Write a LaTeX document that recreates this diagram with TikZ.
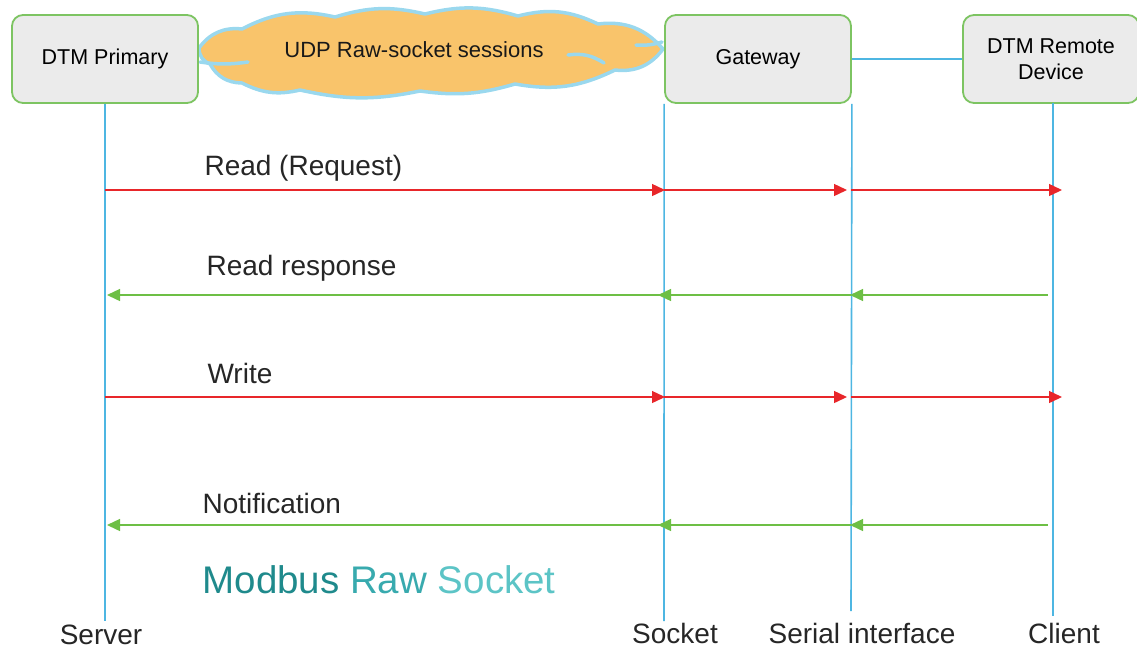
\documentclass[tikz,border=0pt]{standalone}
\usepackage{fontspec}
\setmainfont{Liberation Sans}
\usetikzlibrary{arrows.meta}
\definecolor{lifeblue}{HTML}{4DB6E2}
\definecolor{boxgreen}{HTML}{7DC462}
\definecolor{boxfill}{HTML}{EBEBEB}
\definecolor{reqred}{HTML}{E8262A}
\definecolor{respgreen}{HTML}{6DBF45}
\definecolor{cloudfill}{HTML}{F9C46B}
\definecolor{cloudline}{HTML}{9AD8EE}
\definecolor{tealA}{HTML}{1F8A8C}
\definecolor{tealB}{HTML}{38AAAE}
\definecolor{tealC}{HTML}{5CC4C6}
\begin{document}
\begin{tikzpicture}[x=1pt,y=-1pt,
  box/.style={draw=boxgreen, line width=1.8pt, fill=boxfill, rounded corners=11pt,
    minimum height=88pt, inner sep=2pt, font=\fontsize{21.5}{26}\selectfont, align=center},
  life/.style={draw=lifeblue, line width=1.6pt},
  req/.style={draw=reqred, line width=1.4pt, -{Triangle[length=13pt,width=12pt]}},
  resp/.style={draw=respgreen, line width=1.4pt, -{Triangle[length=13pt,width=12pt]}},
  msg/.style={anchor=west, font=\fontsize{28}{32}\selectfont, text=black!85},
  bottom/.style={font=\fontsize{28}{32}\selectfont, text=black!85},
  cloudedge/.style={draw=cloudline, line width=3.5pt, line cap=round, line join=round}]
\useasboundingbox (0,0) rectangle (1137,649);

% cloud (drawn directly)
\path[cloudedge, fill=cloudfill]
  (199,48) to[bend left=30] (242,29) to[bend left=20] (335,17)
  to[bend left=15] (425,14) to[bend left=15] (518,16) to[bend left=20] (598,24)
  to[bend left=28] (663,49)
  to[bend left=30] (615,70) to[bend left=18] (515,84) to[bend left=12] (420,91)
  to[bend left=12] (300,90) to[bend left=20] (242,83) to[bend left=30] (210,64)
  to[bend left=35] cycle;
\draw[cloudedge] (200,62) to[bend right=8] (248,62);
\draw[cloudedge] (568,55) to[bend left=20] (604,63);
\draw[cloudedge] (636,45) to[bend right=10] (662,42);
\node[font=\fontsize{22}{26}\selectfont, text=black!90] (cltext) at (414,50) {UDP Raw-socket sessions};

% boxes
\node[box, minimum width=186pt] (prim) at (105,59) {DTM Primary};
\node[box, minimum width=186pt] (gw) at (758,59) {Gateway};
\node[box, minimum width=176pt] (rem) at (1051,59) {DTM Remote\\Device};

\draw[life] (gw.east) -- (rem.west);

% lifeline ends
\coordinate (svend) at (105,621);
\coordinate (skend) at (664,621);
\coordinate (siend) at (851,611);
\coordinate (clend) at (1053,616);
\coordinate (remtop) at (1053,103);
\draw[life] (prim.south) -- (svend);
\draw[life] (gw.south west) -- (skend);
\draw[life] (gw.south east) -- (siend);
\draw[life] (remtop) -- (clend);

% row coordinates
\foreach \r/\y in {r1/190,r2/295,r3/397,r4/525}{
  \coordinate (A\r) at (105,\y);
  \coordinate (B\r) at (664,\y);
  \coordinate (C\r) at (851,\y);
  \coordinate (D\r) at (1053,\y);
}
% requests
\foreach \r in {r1,r3}{
  \draw[req] (A\r) -- ([xshift=1pt]B\r);
  \draw[req] (B\r) -- ([xshift=-4pt]C\r);
  \draw[req] (C\r) -- ([xshift=9pt]D\r);
}
% responses
\foreach \r in {r2,r4}{
  \draw[resp] ([xshift=-5pt]D\r) -- ([xshift=-1pt]C\r);
  \draw[resp] (C\r) -- ([xshift=-6pt]B\r);
  \draw[resp] (B\r) -- ([xshift=2pt]A\r);
}

% labels
\node[msg] (l1) at (201,168) {Read (Request)};
\node[msg] (l2) at (203,268) {Read response};
\node[msg] (l3) at (204,373) {Write};
\node[msg] (l4) at (199,503) {Notification};

\node[anchor=west, font=\fontsize{38.5}{44}\selectfont] (title) at (199,580)
  {\textcolor{tealA}{Modbus} \textcolor{tealB}{Raw} \textcolor{tealC}{Socket}};

\node[bottom] (server) at (101,635) {Server};
\node[bottom] (socket) at (675,633) {Socket};
\node[bottom] (serial) at (862,633) {Serial interface};
\node[bottom] (client) at (1064,633) {Client};
\end{tikzpicture}
\end{document}
